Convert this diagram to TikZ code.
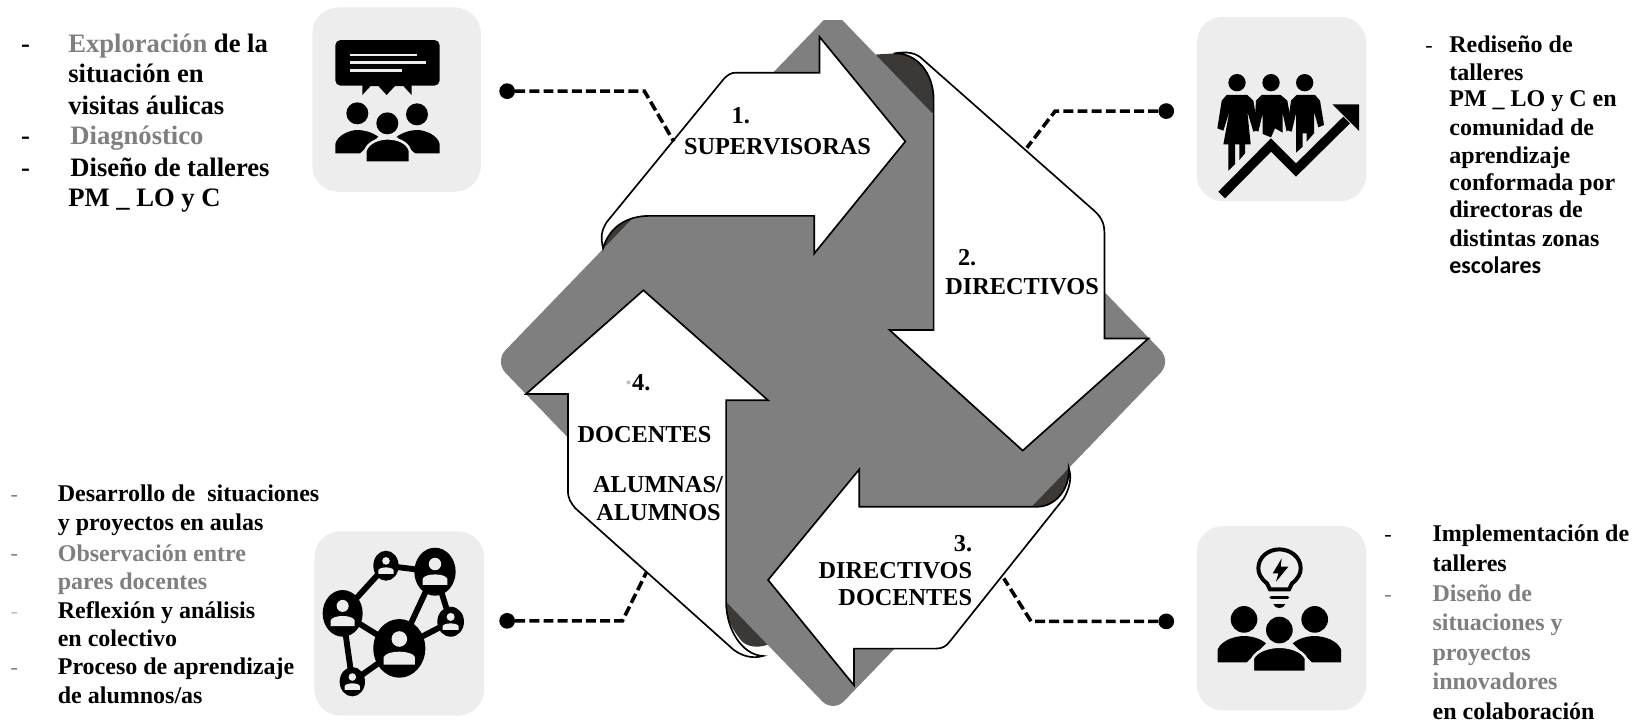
\documentclass[tikz,border=0pt]{standalone}
\usepackage{fontspec}
\setmainfont{Liberation Serif}
\newfontfamily\carl{Carlito}
\definecolor{dgray}{HTML}{7F7F7F}
\definecolor{fold}{HTML}{3B3835}
\definecolor{tile}{HTML}{EDEDED}
\tikzset{
  flowarrow/.style={draw=black,line width=1.6pt,fill=white,line join=miter},
  foldshape/.style={fill=fold,draw=none},
  tilebox/.style={fill=tile,draw=none,rounded corners=25pt},
  leader/.style={line width=3.4pt,dash pattern=on 9.5pt off 4pt,black},
  dotend/.style={circle,fill=black,draw=none,minimum size=15pt,inner sep=0pt},
  side/.style={font=\fontsize{25.4}{25.4}\selectfont\bfseries,anchor=base west,inner sep=0pt,yshift=-1pt},
  sidesm/.style={font=\fontsize{22.9}{22.9}\selectfont\bfseries,anchor=base west,inner sep=0pt,yshift=-1pt},
  dashmark/.style={font=\fontsize{21}{21}\selectfont,anchor=base west,inner sep=0pt,yshift=-1pt},
  lab/.style={font=\fontsize{23.2}{23.2}\selectfont\bfseries,inner sep=0pt,yshift=-0.5pt},
  gtxt/.style={text=dgray},
}
\newcommand{\netnode}[4]{%
  \fill[black] (#1,#2) ellipse ({#3} and {#4});
  \fill[tile] (#1,#2-0.32*#4) circle ({0.3*#3});
  \fill[tile] (#1-0.6*#3,#2+0.55*#4) -- (#1-0.6*#3,#2+0.3*#4) .. controls (#1-0.5*#3,#2+0.05*#4) and (#1+0.5*#3,#2+0.05*#4) .. (#1+0.6*#3,#2+0.3*#4) -- (#1+0.6*#3,#2+0.55*#4) -- cycle;
}
\begin{document}
\begin{tikzpicture}[x=1pt,y=-1pt]
\useasboundingbox (0,0) rectangle (1568,689);
% folds
\fill[foldshape] (575.5,238) .. controls (582,215) and (600,206) .. (606,206) -- (620,240) -- cycle;
\fill[foldshape] (836,52) -- (853,51) .. controls (875,50) and (891,70) .. (891,95) -- (891,108) -- (860,110) -- cycle;
\fill[foldshape] (984,483.6) -- (990,483.6) .. controls (1006,483.6) and (1021,468) .. (1021,445) -- (985,450) -- cycle;
\fill[foldshape] (693,572) -- (720,575) -- (735,614) .. controls (728,618) and (715,619) .. (708,612) .. controls (698,600) and (693,590) .. (693,575) -- cycle;
% diamond
\begin{scope}
\clip (0,20) rectangle (1568,689);
\fill[dgray] (795,10) [rounded corners=15pt] -- (1118,345) -- (795,680) -- (472,345) [sharp corners] -- cycle;
\end{scope}
% arrows
\draw[flowarrow] (575.5,237) .. controls (573,226) and (574,220) .. (579,212) -- (691,75) .. controls (695,71) and (698,69.4) .. (702,69.4) -- (782,69.4) -- (782,35) -- (864,135) -- (777,242) -- (777,206) -- (620,206) .. controls (600,206) and (582,215) .. (575.5,237) -- cycle;
\draw[flowarrow] (853,51) .. controls (866,49) and (874,50) .. (881,57) -- (1043,200) .. controls (1050,206) and (1054,212) .. (1054,222) -- (1054,323) -- (1096,323) -- (976,430) -- (849,315) -- (891,315) -- (891,95) .. controls (891,70) and (875,50) .. (853,51) -- cycle;
\draw[flowarrow] (820,448) -- (820,483.6) -- (990,483.6) .. controls (1006,483.6) and (1021,468) .. (1020,447) .. controls (1023,455) and (1021,466) .. (1015,476) -- (906.6,612) .. controls (903,617) and (899,619) .. (893,619) -- (815,619) -- (815,654) -- (733,553.5) -- cycle;
\draw[flowarrow] (614,277) -- (733,382) -- (693,382) -- (693,575) .. controls (693,600) and (708,625) .. (728,626) .. controls (718,629) and (708,626) .. (700,620) -- (549,485) .. controls (545,480) and (542,476) .. (542,468) -- (542,376) -- (502,376) -- cycle;
% tiles
\fill[tilebox] (298,7) rectangle (459,183);
\fill[tilebox] (1142,16) rectangle (1304,192);
\fill[tilebox] (300,507) rectangle (462,683);
\fill[tilebox] (1142,502) rectangle (1304,678);
% connectors
\node[dotend] (d1) at (484,87) {};
\node[dotend] (d2) at (1113,106) {};
\node[dotend] (d3) at (1113,593) {};
\node[dotend] (d4) at (484,592.5) {};
\coordinate (e1) at (643,135);
\coordinate (e2) at (980,141);
\coordinate (e3) at (958,552);
\coordinate (e4) at (617,546);
\draw[leader] (d1) -- (615,87) -- (e1);
\draw[leader] (d2) -- (1007,106) -- (e2);
\draw[leader] (d3) -- (984,593) -- (e3);
\draw[leader] (d4) -- (594,592.5) -- (e4);
% icon 1
\begin{scope}[shift={(286.3,0)},x=0.3181pt,y=-0.3181pt]
\fill[black,rounded corners=5pt] (106,120) rectangle (419,257);
\fill[black] (187,250) -- (187,285) -- (212,258) -- (235,258) -- (260,285) -- (285,258) -- (310,258) -- (335,285) -- (335,250) -- cycle;
\draw[tile,line width=2.6pt] (150,165) -- (350,165) (150,188) -- (377,188) (150,212) -- (307,212);
\fill[black] (172,340) circle (33) (351,343) circle (33);
\fill[black] (106,460) -- (106,432) .. controls (112,405) and (150,390) .. (172,390) .. controls (190,390) and (215,396) .. (235,410) -- (180,460) -- cycle;
\fill[black] (419,460) -- (419,432) .. controls (413,405) and (375,390) .. (351,390) .. controls (335,390) and (310,396) .. (290,410) -- (345,460) -- cycle;
\fill[black,draw=tile,line width=2.5pt] (196,488) -- (196,452) .. controls (205,425) and (240,415) .. (262,415) .. controls (290,415) and (322,425) .. (330,452) -- (330,488) -- cycle;
\fill[tile] (180,461) rectangle (196,490) (330,461) rectangle (345,490);
\fill[black] (262,370) circle (33);
\end{scope}
% icon 2
\begin{scope}[shift={(1135.7,9.54)},x=0.3181pt,y=-0.3181pt]
\fill[black] (141,218) circle (26) (243,218) circle (26) (344,218) circle (26);
\fill[black] (110,255) -- (172,255) -- (190,272) -- (205,360) -- (190,365) -- (172,305) -- (182,403) -- (165,403) -- (165,430) -- (148,450) -- (148,403) -- (135,403) -- (135,462) -- (115,482) -- (115,403) -- (100,403) -- (118,305) -- (100,362) -- (82,355) -- (95,272) -- cycle;
\fill[black] (215,255) -- (272,255) -- (292,272) -- (305,345) -- (290,365) -- (278,310) -- (278,368) -- (255,355) -- (243,382) -- (218,372) -- (218,310) -- (205,365) -- (192,360) -- (198,272) -- cycle;
\fill[black] (320,255) -- (375,255) -- (390,272) -- (402,345) -- (385,352) -- (372,305) -- (372,370) -- (350,395) -- (350,370) -- (338,370) -- (338,410) -- (318,428) -- (318,310) -- (305,365) -- (290,360) -- (303,272) -- cycle;
\draw[tile,line width=5pt] (95,555) -- (243,405) -- (318,480) -- (470,330);
\draw[black,line width=9pt,line join=miter] (95,555) -- (243,405) -- (318,480) -- (470,330);
\fill[black] (427,283) -- (507,283) -- (507,363) -- cycle;
\end{scope}
% icon 3
\begin{scope}[shift={(286.3,496.3)},x=0.3181pt,y=-0.3181pt]
\draw[black,line width=5.6pt] (128,280) -- (258,137) -- (405,155) -- (298,385) -- (128,280) -- (157,485) -- (298,385) -- (452,305) -- (405,155);
\netnode{128}{280}{60}{70}
\netnode{258}{137}{38}{45}
\netnode{405}{155}{62}{72}
\netnode{452}{305}{40}{45}
\netnode{298}{385}{78}{88}
\netnode{157}{485}{38}{44}
\end{scope}
% icon 4
\begin{scope}[shift={(1135.7,496.3)},x=0.3181pt,y=-0.3181pt]
\draw[black,line width=3.8pt] (240,208) -- (297,208) -- (306,190) .. controls (325,175) and (332,160) .. (332,145) .. controls (332,110) and (300,88) .. (268,88) .. controls (236,88) and (205,110) .. (205,145) .. controls (205,160) and (212,175) .. (231,190) -- cycle;
\fill[black] (275,115) -- (248,160) -- (265,160) -- (258,185) -- (295,140) -- (272,140) -- cycle;
\draw[black,line width=3pt,line cap=round] (243,232) -- (293,232);
\fill[black] (250,252) -- (286,252) .. controls (282,268) and (254,268) .. (250,252) -- cycle;
\fill[black] (162,298) circle (40) (374,298) circle (40);
\fill[black] (83,427) -- (83,388) .. controls (95,360) and (135,348) .. (162,348) .. controls (185,348) and (210,355) .. (228,370) -- (170,427) -- cycle;
\fill[black] (453,427) -- (453,388) .. controls (441,360) and (401,348) .. (374,348) .. controls (351,348) and (326,355) .. (308,370) -- (366,427) -- cycle;
\fill[black,draw=tile,line width=2.5pt] (188,456) -- (188,415) .. controls (200,390) and (240,380) .. (268,380) .. controls (296,380) and (336,390) .. (348,415) -- (348,456) -- cycle;
\fill[tile] (170,428) rectangle (187,458) (349,428) rectangle (366,458);
\fill[black] (268,330) circle (40);
\end{scope}
% centre labels
\node[lab] (a1n) at (707,110) {1.};
\node[lab] (a1t) at (742,139) {SUPERVISORAS};
\node[lab] (a2n) at (923,245) {2.};
\node[lab] (a2t) at (975.5,273) {DIRECTIVOS};
\node[lab,anchor=east] (a3n) at (928,518) {3.};
\node[lab,anchor=east] (a3t) at (928,544) {DIRECTIVOS};
\node[lab,anchor=east] (a3u) at (928,570) {DOCENTES};
\node[lab] (a4n) at (612,365) {4.};
\node[lab,text=lightgray] (a4d) at (600,365) {.};
\node[lab] (a4t) at (615,414) {DOCENTES};
\node[lab,anchor=east] (a4u) at (690,462) {ALUMNAS/};
\node[lab,anchor=east] (a4v) at (688,489) {ALUMNOS};
% top left text
\node[side] (tl0) at (20,49) {-};
\node[side] (tl1) at (65,49) {\textcolor{dgray}{Exploración} de la};
\node[side] (tl2) at (65,78) {situación en};
\node[side] (tl3) at (65,108) {visitas áulicas};
\node[side] (tl4) at (20,137) {-};
\node[side,gtxt] (tl5) at (67,137) {Diagnóstico};
\node[side] (tl6) at (20,167) {-};
\node[side] (tl7) at (67,167) {Diseño de talleres};
\node[side] (tl8) at (65,196) {PM \_ LO y C};
% top right text
\node[dashmark] (tr0) at (1360,49) {-};
\node[sidesm] (tr1) at (1383,49) {Rediseño de};
\node[sidesm] (tr2) at (1383,76) {talleres};
\node[sidesm] (tr3) at (1383,101) {PM \_ LO y C en};
\node[sidesm] (tr4) at (1383,128) {comunidad de};
\node[sidesm] (tr5) at (1383,155) {aprendizaje};
\node[sidesm] (tr6) at (1383,181) {conformada por};
\node[sidesm] (tr7) at (1383,207) {directoras de};
\node[sidesm] (tr8) at (1383,234) {distintas zonas};
\node[sidesm,font=\fontsize{22.8}{22.8}\selectfont\carl\bfseries] (tr9) at (1383,260) {escolares};
% bottom left text
\node[dashmark,text=dgray] (bl0) at (10,478) {-};
\node[sidesm] (bl1) at (55,478) {Desarrollo de\ \ situaciones};
\node[sidesm] (bl2) at (55,505) {y proyectos en aulas};
\node[dashmark,text=dgray] (bl3) at (10,534) {-};
\node[sidesm,gtxt] (bl4) at (55,535) {Observación entre};
\node[sidesm,gtxt] (bl5) at (55,562) {pares docentes};
\node[dashmark,text=lightgray] (bl6) at (10,589) {-};
\node[sidesm] (bl7) at (55,589) {Reflexión y análisis};
\node[sidesm] (bl8) at (55,616) {en colectivo};
\node[dashmark,text=dgray] (bl9) at (10,643) {-};
\node[sidesm] (bl10) at (55,643) {Proceso de aprendizaje};
\node[sidesm] (bl11) at (55,670) {de alumnos/as};
% bottom right text
\node[dashmark] (br0) at (1321,516) {-};
\node[sidesm] (br1) at (1367,516) {Implementación de};
\node[sidesm] (br2) at (1367,544) {talleres};
\node[dashmark,text=dgray] (br3) at (1321,573) {-};
\node[sidesm,gtxt] (br4) at (1367,573) {Diseño de};
\node[sidesm,gtxt] (br5) at (1367,601) {situaciones y};
\node[sidesm,gtxt] (br6) at (1367,629) {proyectos};
\node[sidesm,gtxt] (br7) at (1367,657) {innovadores};
\node[sidesm] (br8) at (1367,686) {en colaboración};
\end{tikzpicture}
\end{document}
